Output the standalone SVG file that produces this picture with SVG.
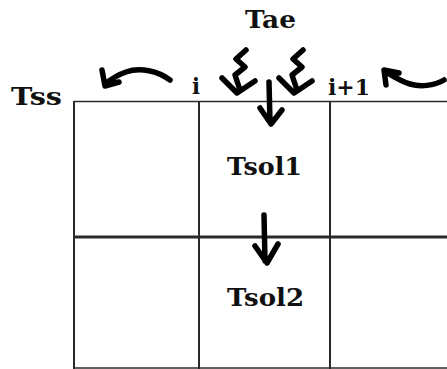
<svg xmlns="http://www.w3.org/2000/svg" width="447" height="369" viewBox="0 0 447 369">
<style>
.lbl{font-family:"DejaVu Serif","Liberation Serif",serif;font-weight:bold;fill:#111;}
.grid{stroke:#2a2a2a;fill:none;}
.arr{stroke:#000;stroke-width:5.5;fill:none;stroke-linecap:round;stroke-linejoin:round;}
</style>
<rect width="447" height="369" fill="#fff"/>
<g id="grid">
<line class="grid" x1="74" y1="101.5" x2="447" y2="101.5" stroke-width="1.5"/>
<line class="grid" x1="74" y1="101" x2="74" y2="369" stroke-width="2"/>
<line class="grid" x1="199" y1="101" x2="199" y2="369" stroke-width="2"/>
<line class="grid" x1="330" y1="101" x2="330" y2="369" stroke-width="2"/>
<line class="grid" x1="74" y1="237" x2="447" y2="237" stroke="#000" stroke-width="3"/>
<line class="grid" x1="74" y1="368" x2="447" y2="368" stroke-width="1.5"/>
</g>
<g id="labels">
<text class="lbl" x="245" y="28" font-size="24" textLength="51" lengthAdjust="spacingAndGlyphs">Tae</text>
<text class="lbl" x="11" y="105" font-size="24" textLength="51" lengthAdjust="spacingAndGlyphs">Tss</text>
<text class="lbl" x="192" y="94" font-size="22" textLength="8" lengthAdjust="spacingAndGlyphs">i</text>
<text class="lbl" x="328" y="95" font-size="22" textLength="42" lengthAdjust="spacingAndGlyphs">i+1</text>
<text class="lbl" x="227" y="175" font-size="24" textLength="75" lengthAdjust="spacingAndGlyphs">Tsol1</text>
<text class="lbl" x="227" y="306" font-size="24" textLength="77" lengthAdjust="spacingAndGlyphs">Tsol2</text>
</g>
<g id="connectors">
<path class="arr" d="M170,80 C158,71 140,67 126,72 C117,75 110,80 105,84 M102,70 L105,86 L119,82"/>
<path class="arr" d="M444,80 C434,86 420,87 410,84 C400,81 393,76 386,72 M386,85 L384,70 L399,73"/>
<path class="arr" d="M246,50 L236,59 L245,67 L235,75 L240,90 M222,78 L237,93 L255,81"/>
<path class="arr" d="M303,50 L293,59 L302,67 L292,75 L297,90 M279,78 L294,93 L312,81"/>
<path class="arr" d="M269,82 L270,122 M260,108 L271,124 L282,110"/>
<path class="arr" d="M264,215 L265,261 M255,246 L267,263 L278,244"/>
</g>
</svg>
